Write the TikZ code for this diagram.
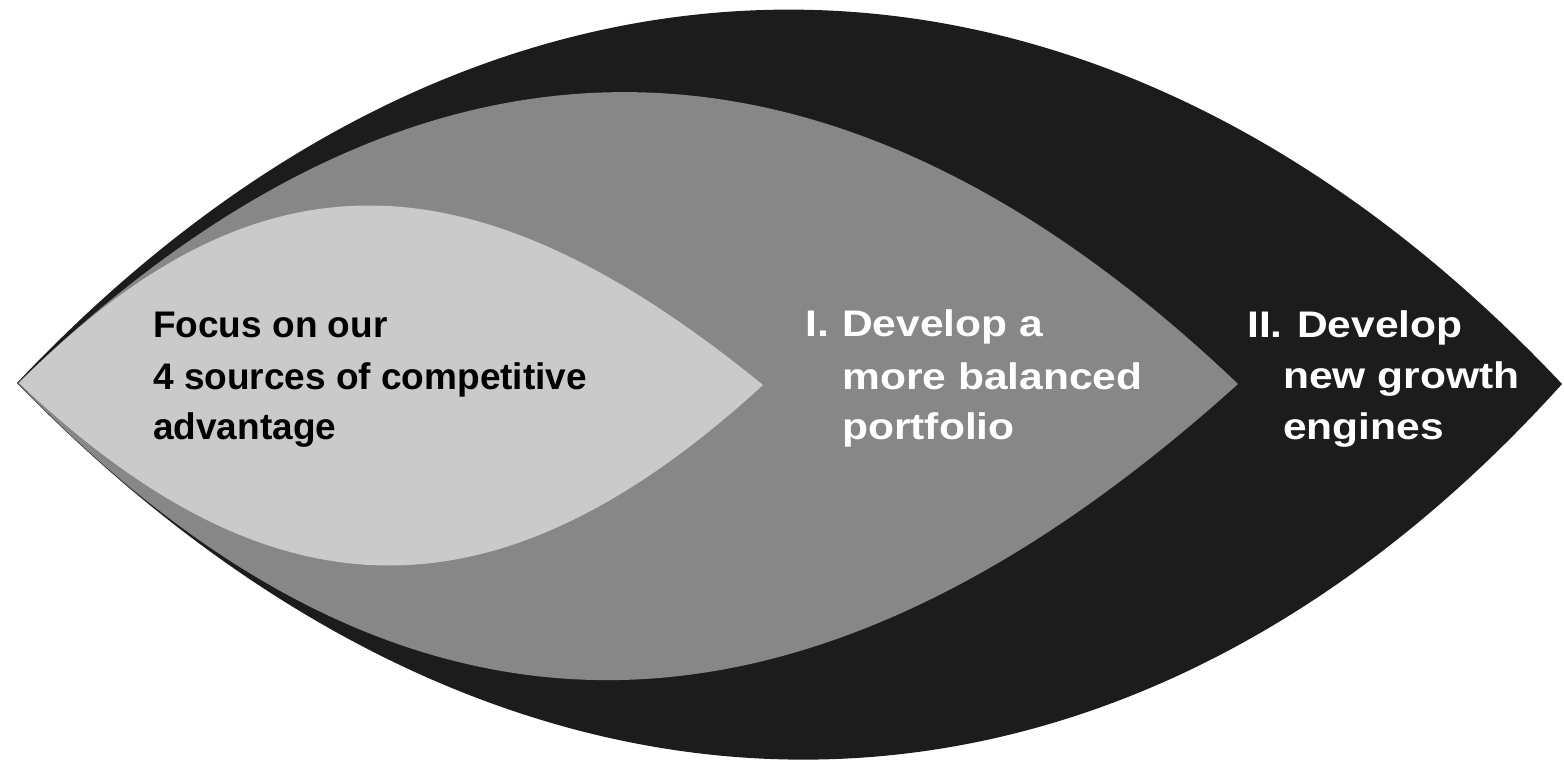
\documentclass[tikz,border=0pt]{standalone}
\usepackage{fontspec}
\setmainfont{Liberation Sans}
\newfontfamily\widefont[FakeStretch=1.15]{Liberation Sans}
\definecolor{outerc}{HTML}{1C1C1C}
\definecolor{midc}{HTML}{878787}
\definecolor{innerc}{HTML}{CACACA}
\begin{document}
\begin{tikzpicture}[x=1pt,y=-1pt,
  lbl/.style={anchor=base west,inner sep=0pt},
  darklbl/.style={lbl,text=black,font=\fontsize{37}{44}\selectfont\bfseries},
  lightlbl/.style={lbl,text=white,font=\widefont\fontsize{37}{44}\selectfont\bfseries}]
\useasboundingbox (0,0) rectangle (1564,762);
% outer lens
\coordinate (oL) at (17,383);
\coordinate (oR) at (1562,384);
\fill[outerc] (oL) .. controls (487,-115) and (1092,-115) .. (oR)
  .. controls (1110,885) and (505,885) .. (oL) -- cycle;
% middle lens
\coordinate (mL) at (18,383);
\coordinate (mR) at (1238,384);
\fill[midc] (mL) .. controls (417,-5) and (830,-5) .. (mR)
  .. controls (800,779) and (400,779) .. (mL) -- cycle;
% inner lens
\coordinate (iL) at (19,383);
\coordinate (iR) at (763,385);
\fill[innerc] (iL) .. controls (255,146) and (470,146) .. (iR)
  .. controls (500,626) and (275,626) .. (iL) -- cycle;
% labels
\node[darklbl] (a1) at (153,337) {Focus on our};
\node[darklbl] (a2) at (153,389) {4 sources of competitive};
\node[darklbl] (a3) at (153,439) {advantage};
\node[lightlbl] (b1) at (805,336) {I.};
\node[lightlbl] (b1b) at (842,336) {Develop a};
\node[lightlbl] (b2) at (842,389) {more balanced};
\node[lightlbl] (b3) at (842,439) {portfolio};
\node[lightlbl] (c1) at (1247,337) {II.};
\node[lightlbl] (c1b) at (1297,337) {Develop};
\node[lightlbl] (c2) at (1283,388) {new growth};
\node[lightlbl] (c3) at (1283,439) {engines};
\end{tikzpicture}
\end{document}
